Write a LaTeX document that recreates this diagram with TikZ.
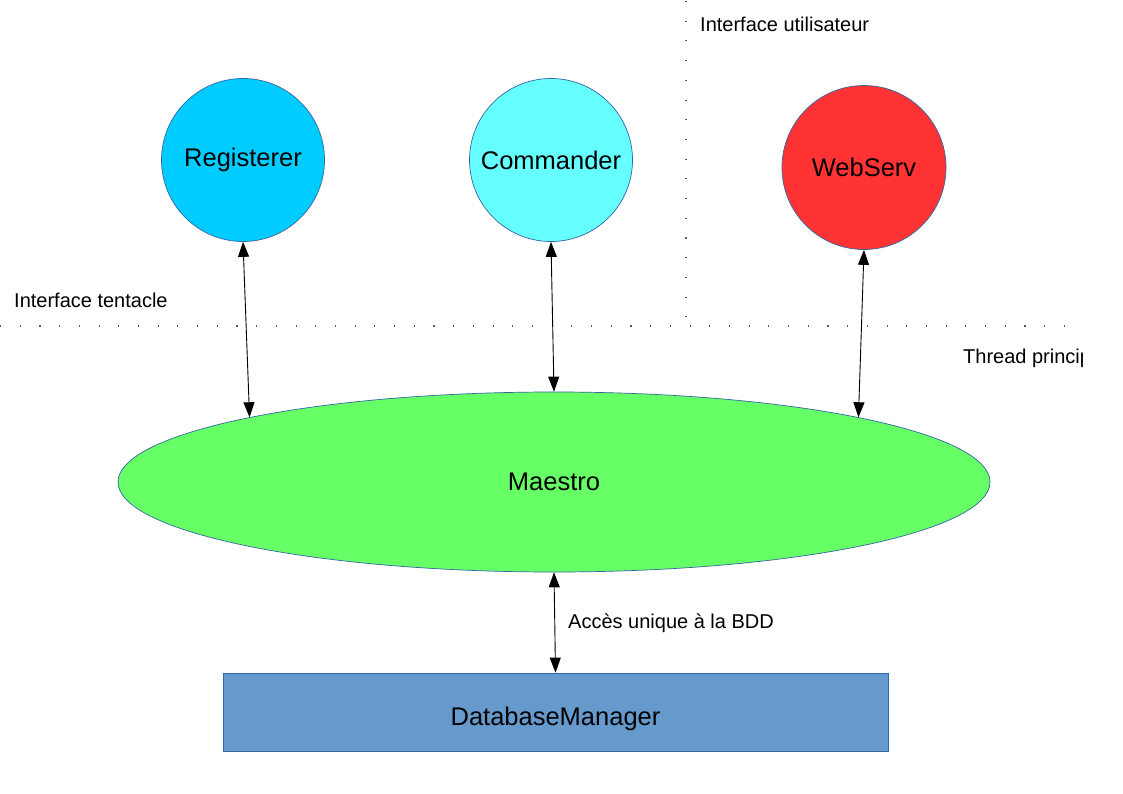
\documentclass[tikz,border=0pt]{standalone}
\usepackage{fontspec}
\setmainfont{Liberation Sans}
\usetikzlibrary{shapes.geometric,arrows.meta}
\definecolor{cReg}{HTML}{00CCFF}
\definecolor{cCom}{HTML}{66FFFF}
\definecolor{cWeb}{HTML}{FF3333}
\definecolor{cMae}{HTML}{66FF66}
\definecolor{cDB}{HTML}{6699CC}
\definecolor{cLine}{HTML}{3465A4}
\tikzset{
  ball/.style={circle, draw=cLine, line width=0.7bp, inner sep=0pt, minimum size=163bp,
    font=\fontsize{25.5bp}{30bp}\selectfont},
  blob/.style={ellipse, draw=cLine, line width=0.7bp, inner sep=0pt,
    font=\fontsize{25.5bp}{30bp}\selectfont},
  dbbox/.style={rectangle, draw=cLine, line width=0.7bp, inner sep=0pt},
  big/.style={inner sep=0pt, font=\fontsize{25.5bp}{30bp}\selectfont},
  lbl/.style={anchor=base west, inner sep=0pt, font=\fontsize{20bp}{24bp}\selectfont},
  link/.style={{Triangle[length=15bp,width=11bp]}-{Triangle[length=15bp,width=11bp]}, line width=0.9bp, black},
  sep/.style={line width=1.1bp, black!65, dash pattern=on 1.1bp off 18.6bp}
}
\begin{document}
\begin{tikzpicture}[x=1bp,y=-1bp]
\useasboundingbox (0,0) rectangle (1123,794);
\fill[white] (0,0) rectangle (1123,794);
\begin{scope}
\clip (0,0) rectangle (1082,794);
\draw[sep] (0,326) -- (1084,326);
\draw[sep] (686,1) -- (686,326);
\node[lbl] (tthread) at (963,363) {Thread princip};
\end{scope}
\node[lbl] (tui) at (700,32) {Interface utilisateur};
\node[lbl] (ttent) at (14,307) {Interface tentacle};

\node[ball, fill=cReg] (reg) at (243,160) {Registerer};
\node[ball, fill=cCom] (com) at (551,160) {Commander};
\node[ball, fill=cWeb, minimum size=164bp] (web) at (864,167.5) {WebServ};
\node[blob, fill=cMae, minimum width=872bp, minimum height=180bp] (mae) at (554,482) {Maestro};
\node[dbbox, fill=cDB, minimum width=665bp, minimum height=78bp] (db) at (555.5,712) {};
\node[big] (dbt) at (555.5,719) {DatabaseManager};

\draw[link] (reg.south) -- (mae.168.3);
\draw[link] (com.south) -- (mae.north);
\draw[link] (web.south) -- (mae.12.1);
\draw[link] (mae.south) -- (db.north);
\node[lbl] (tacc) at (568,628) {Accès unique à la BDD};
\end{tikzpicture}
\end{document}
